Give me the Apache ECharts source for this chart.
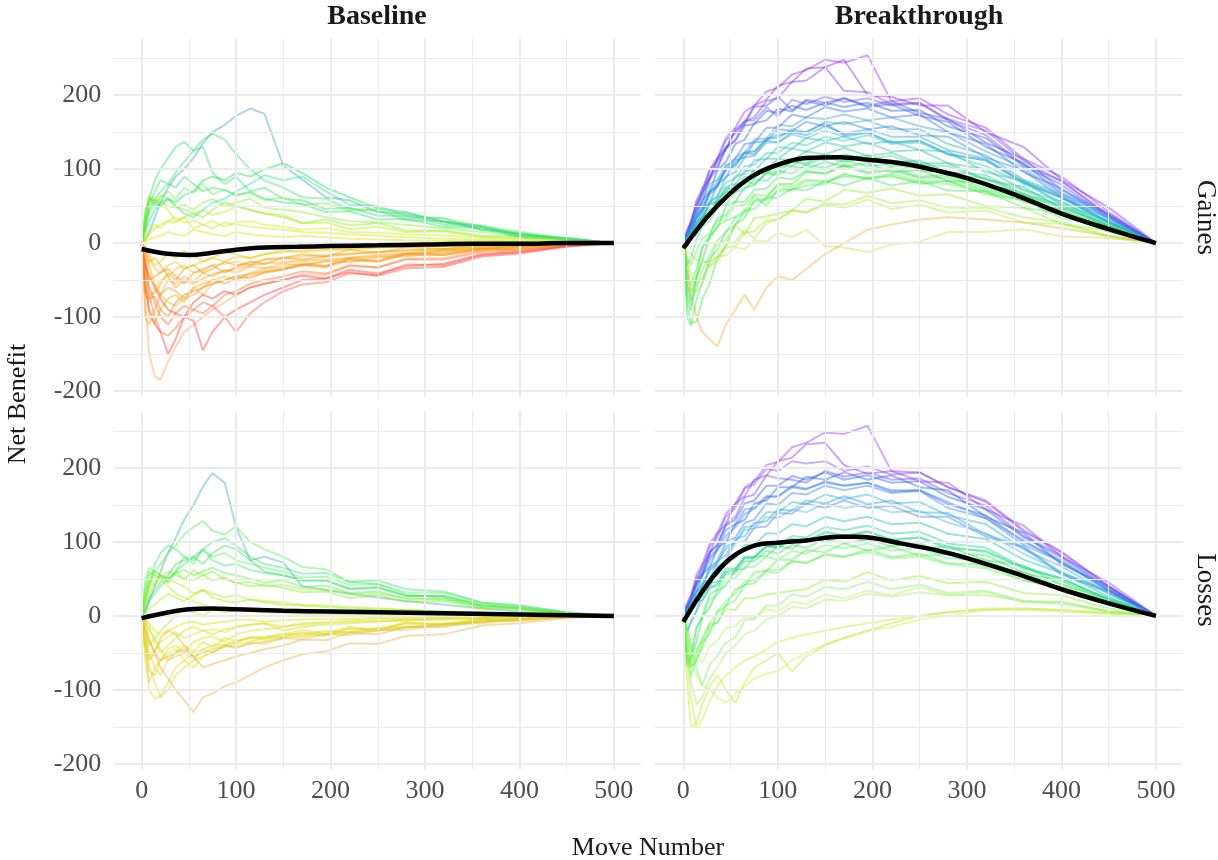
<!DOCTYPE html>
<html><head><meta charset="utf-8">
<script src="https://cdn.jsdelivr.net/npm/echarts@6/dist/echarts.min.js"></script>
<style>html,body{margin:0;padding:0;background:#fff}#chart{width:1218px;height:860px}</style>
</head><body><div id="chart"></div>
<script>
// ---------- DATA ----------
const moves = [0,4,8,14,20,28,36,45,55,65,75,88,100,115,130,150,170,195,220,250,280,320,360,400,450,500];

const baselineGaines = [
 [0,5,15,35,55,75,90,100,115,135,150,160,172,182,175,105,86,62,58,42,40,28,22,11,6,0],
 [0,30,60,85,100,115,130,137,125,130,95,80,90,70,75,60,58,46,48,37,37,25,22,10,7,0],
 [0,20,45,60,70,80,95,110,125,140,148,140,120,100,85,75,62,60,46,44,31,30,18,13,5,0],
 [0,40,62,55,50,60,55,65,70,85,90,85,95,90,100,108,95,75,62,47,42,29,24,12,7,0],
 [0,15,30,45,55,60,50,40,35,45,55,60,70,80,92,85,90,70,52,50,37,33,18,14,4,0],
 [0,20,40,55,65,60,50,45,40,35,45,55,50,45,40,35,27,32,24,27,17,17,10,9,3,0],
 [0,5,12,20,25,30,28,35,40,45,38,42,50,45,40,38,27,28,19,22,15,16,8,7,2,0],
 [0,10,65,60,55,45,30,35,20,25,30,22,28,30,25,22,18,20,15,14,12,10,8,5,2,0],
 [0,2,5,8,10,15,12,10,18,15,12,10,15,12,10,8,10,8,6,5,4,3,3,2,1,0],
 [0,35,60,58,55,50,48,52,45,55,60,50,55,60,48,45,42,35,30,28,25,20,15,10,5,0],
 [0,-5,-15,-30,-25,-15,-20,-10,-18,-25,-20,-12,-15,-20,-15,-10,-12,-10,-8,-6,-5,-4,-3,-2,-1,0],
 [0,-65,-70,-68,-55,-40,-50,-35,-30,-40,-35,-25,-30,-28,-22,-20,-15,-18,-9,-13,-6,-8,-3,-4,-1,0],
 [0,-30,-50,-45,-40,-35,-45,-55,-40,-35,-30,-40,-32,-25,-28,-20,-22,-18,-15,-12,-10,-8,-6,-4,-2,0],
 [0,-50,-100,-108,-90,-75,-70,-80,-60,-55,-50,-45,-50,-40,-35,-32,-27,-31,-20,-23,-13,-14,-6,-6,-1,0],
 [0,-80,-150,-180,-185,-160,-140,-120,-110,-100,-90,-80,-70,-60,-55,-50,-42,-43,-31,-33,-21,-20,-10,-9,-3,0],
 [0,-60,-90,-110,-120,-150,-130,-100,-105,-145,-120,-100,-90,-80,-70,-60,-50,-48,-36,-41,-31,-28,-15,-12,-4,0],
 [0,-40,-60,-80,-100,-110,-95,-85,-90,-80,-85,-100,-120,-95,-80,-65,-56,-53,-41,-43,-29,-30,-16,-12,-4,0],
 [0,-20,-70,-100,-120,-125,-115,-100,-90,-95,-85,-70,-65,-55,-50,-45,-38,-41,-30,-33,-22,-22,-12,-10,-3,0],
 [0,-10,-30,-55,-70,-80,-85,-75,-60,-70,-55,-50,-45,-48,-40,-35,-30,-25,-20,-18,-15,-10,-8,-5,-2,0],
 [0,-5,-20,-35,-40,-30,-25,-35,-30,-25,-20,-25,-18,-20,-15,-12,-10,-8,-8,-6,-5,-4,-3,-2,-1,0],
 [0,-70,-75,-72,-90,-100,-80,-70,-65,-60,-55,-50,-45,-42,-38,-35,-29,-31,-22,-25,-15,-16,-8,-8,-2,0],
 [0,-30,-45,-60,-75,-90,-95,-100,-80,-70,-75,-65,-70,-60,-55,-50,-44,-48,-39,-44,-34,-32,-18,-14,-5,0],
 [0,25,50,70,85,80,75,90,80,70,75,72,65,68,60,55,53,42,43,32,33,22,20,8,6,0],
 [0,8,15,25,20,30,35,28,30,25,20,28,25,22,20,18,15,14,12,10,8,6,5,3,2,0],
 [0,-15,-25,-20,-30,-45,-60,-50,-55,-48,-42,-38,-35,-30,-28,-26,-24,-22,-20,-16,-14,-10,-7,-4,-2,0],
 [0,-100,-110,-90,-70,-60,-65,-75,-70,-60,-50,-55,-48,-45,-40,-36,-30,-33,-23,-25,-15,-16,-8,-7,-2,0],
 [0,-10,-40,-60,-50,-45,-35,-30,-40,-38,-30,-28,-25,-30,-22,-20,-18,-16,-14,-12,-10,-8,-5,-3,-1,0],
 [0,45,60,50,62,70,60,75,68,80,66,72,64,70,58,62,52,54,44,46,34,34,22,16,6,0],
 [0,-40,-80,-60,-70,-50,-55,-45,-52,-40,-45,-36,-40,-32,-34,-28,-30,-24,-26,-19,-18,-12,-10,-5,-2,0]
];

const breakthroughGaines = [
 [0,18,28,58,72,100,115,142,156,178,186,205,210,228,234,248,244,254,192,196,174,156,114,90,42,0],
 [0,10,27,42,68,86,112,126,154,164,186,194,213,218,236,238,248,200,198,186,186,150,130,86,48,0],
 [0,12,20,44,56,88,100,128,140,164,170,192,196,218,220,238,206,204,188,190,166,146,106,84,38,0],
 [0,14,30,48,74,88,116,128,152,160,184,186,198,180,194,190,196,186,192,176,168,136,114,72,40,0],
 [0,8,22,34,58,70,98,110,134,140,162,166,182,178,192,186,196,184,188,172,164,130,108,68,38,0],
 [0,10,16,36,44,70,78,104,114,134,136,156,156,174,170,184,178,182,170,174,150,134,96,74,32,0],
 [0,4,18,24,46,54,80,88,112,116,136,138,154,152,164,158,164,154,158,146,144,116,98,62,34,0],
 [0,7,10,28,34,56,64,90,96,116,118,136,136,150,146,158,148,154,144,144,126,114,84,63,28,0],
 [0,10,14,34,40,66,76,100,106,122,120,140,146,150,150,162,146,150,136,138,120,112,82,61,28,0],
 [0,2,12,16,36,40,62,68,90,94,112,114,130,128,142,138,144,134,138,126,124,96,84,52,30,0],
 [0,-5,8,12,32,36,56,60,80,82,100,100,114,112,124,120,129,118,122,108,108,86,76,47,27,0],
 [0,-70,-92,-46,-24,10,20,50,56,76,78,96,96,110,106,116,110,116,104,108,92,88,64,50,22,0],
 [0,-82,-108,-106,-76,-54,-20,-4,26,34,58,60,80,80,96,94,106,96,102,90,92,74,66,40,24,0],
 [0,8,12,30,34,54,56,74,74,90,88,104,100,112,108,120,114,119,108,112,96,92,66,52,22,0],
 [0,-40,-58,-34,-6,6,24,30,36,44,64,50,74,72,78,80,94,86,92,80,84,66,58,34,22,0],
 [0,-60,-66,-48,-26,-24,0,4,24,12,34,36,40,44,60,56,72,68,74,64,66,50,48,26,17,0],
 [0,2,6,22,26,46,50,70,68,84,80,94,92,104,100,110,104,108,96,99,84,82,56,45,18,0],
 [0,-20,-44,-56,-48,-26,-18,-2,2,18,6,28,32,44,42,54,52,64,54,58,48,48,35,28,10,0],
 [0,-12,-13,-24,-22,-32,-18,-17,-6,-8,4,2,14,8,18,-4,-6,-12,-2,2,15,15,19,9,7,0],
 [0,-30,-70,-100,-120,-130,-140,-110,-90,-70,-90,-60,-45,-50,-35,-15,0,18,25,32,35,32,28,20,10,0],
 [0,12,20,44,54,80,86,106,108,124,124,139,136,147,142,152,144,149,136,139,121,112,81,62,27,0],
 [0,14,24,52,64,92,104,130,138,159,161,179,176,186,180,190,184,190,179,180,158,142,104,79,35,0],
 [0,-52,-78,-44,-6,11,34,38,56,56,72,74,89,86,98,94,104,94,99,88,89,71,64,38,23,0],
 [0,10,16,38,46,70,76,99,104,122,124,142,142,154,150,164,161,166,154,154,134,119,86,66,29,0],
 [0,-28,-62,-66,-54,-31,-24,-6,-4,14,16,32,31,44,41,52,48,59,46,52,41,44,28,26,8,0],
 [0,-100,-112,-76,-54,-21,-9,16,24,44,46,62,61,74,71,84,78,88,78,84,71,70,48,40,15,0],
 [0,16,28,56,68,99,111,139,148,166,166,184,171,194,188,198,191,196,186,189,168,152,111,84,37,0],
 [0,7,8,26,31,52,56,76,80,98,98,114,114,128,124,136,131,136,124,126,108,100,72,56,23,0],
 [0,-30,-20,6,22,30,48,52,70,72,86,84,98,94,106,102,112,104,108,98,96,80,68,44,24,0],
 [0,3,14,18,36,38,58,60,78,80,96,94,108,104,118,112,120,114,118,106,104,86,72,48,26,0],
 [0,-60,-84,-60,-36,-16,4,14,34,40,56,58,70,72,84,82,90,88,94,84,84,70,60,40,20,0],
 [0,9,18,36,50,68,84,98,116,122,140,142,160,158,170,168,174,166,170,158,150,124,102,66,36,0],
 [0,-20,-30,-10,6,14,30,34,50,52,66,64,78,76,86,84,92,88,90,82,80,68,58,38,20,0],
 [0,6,12,28,36,56,62,82,88,104,106,122,122,136,132,144,138,146,134,136,120,104,80,56,28,0]
];

const baselineLosses = [
 [0,5,20,40,60,85,105,130,150,175,193,180,120,75,80,72,40,35,30,25,20,15,10,6,3,0],
 [0,30,55,60,70,85,95,110,120,128,115,110,121,100,90,80,66,63,46,43,29,25,13,10,3,0],
 [0,20,40,70,85,95,90,80,75,90,100,105,95,80,70,65,57,58,46,48,36,33,18,14,5,0],
 [0,40,60,55,50,60,55,50,48,55,60,50,45,40,42,38,32,33,24,28,19,20,10,9,3,0],
 [0,15,30,45,55,50,45,40,30,35,30,25,28,22,20,18,15,14,12,10,8,6,5,3,2,0],
 [0,10,25,35,45,55,70,75,80,70,85,95,90,75,60,55,49,48,36,38,27,27,16,11,4,0],
 [0,-20,-50,-70,-60,-45,-40,-50,-35,-30,-28,-35,-25,-20,-18,-15,-12,-10,-8,-7,-6,-5,-4,-2,-1,0],
 [0,-60,-100,-112,-108,-90,-70,-60,-50,-45,-40,-38,-35,-30,-28,-25,-19,-23,-15,-18,-9,-12,-5,-5,-1,0],
 [0,-10,-30,-50,-70,-85,-100,-114,-130,-110,-105,-95,-90,-80,-70,-60,-52,-48,-37,-38,-27,-25,-13,-10,-3,0],
 [0,-40,-60,-50,-30,-20,-25,-40,-55,-50,-45,-40,-42,-38,-35,-30,-28,-25,-22,-20,-15,-12,-8,-4,-2,0],
 [0,20,40,55,50,40,30,25,20,15,10,5,8,6,5,4,3,3,2,2,1,1,1,0,0,0],
 [0,-5,-10,-20,-25,-20,-15,-10,-8,-12,-10,-8,-6,-5,-8,-6,-5,-4,-4,-3,-3,-2,-2,-1,0,0],
 [0,-30,-70,-90,-110,-100,-80,-70,-60,-55,-50,-40,-35,-30,-32,-28,-22,-25,-17,-20,-11,-12,-5,-5,-1,0],
 [0,25,45,60,55,50,58,62,55,60,65,58,55,50,45,48,39,41,31,33,23,23,12,10,3,0],
 [0,5,10,15,22,30,25,20,28,35,25,20,18,22,18,15,14,12,10,9,8,6,4,2,1,0],
 [0,-20,-35,-50,-60,-55,-50,-45,-55,-70,-65,-60,-55,-50,-45,-40,-32,-33,-23,-25,-15,-15,-7,-7,-1,0],
 [0,-5,-15,-35,-50,-40,-30,-20,-15,-20,-25,-18,-15,-12,-10,-20,-15,-12,-10,-8,-6,-4,-3,-2,-1,0],
 [0,10,20,30,40,50,60,70,80,90,75,68,70,62,58,55,47,48,37,39,27,27,14,12,4,0],
 [0,-10,-20,-30,-20,-10,0,10,5,0,8,12,10,8,6,10,8,6,5,4,3,3,2,1,0,0],
 [0,-30,-55,-45,-35,-28,-22,-30,-25,-20,-18,-22,-15,-12,-10,-14,-10,-8,-6,-5,-4,-3,-2,-1,0,0],
 [0,50,65,60,55,45,60,80,70,90,80,85,75,70,65,60,52,53,42,43,32,31,18,14,5,0],
 [0,-40,-75,-80,-60,-50,-45,-60,-70,-55,-48,-42,-38,-35,-30,-28,-23,-27,-17,-19,-9,-11,-4,-5,0,0],
 [0,-20,-40,-30,-45,-60,-50,-40,-48,-35,-42,-30,-34,-28,-30,-24,-26,-20,-22,-16,-16,-10,-9,-4,-2,0],
 [0,30,50,40,55,45,60,50,62,55,48,52,44,46,40,42,36,36,30,30,24,22,14,10,4,0],
 [0,-50,-90,-70,-80,-60,-55,-50,-58,-45,-50,-40,-44,-36,-38,-30,-32,-25,-26,-19,-19,-12,-10,-5,-2,0]
];

const breakthroughLosses = [
 [0,18,28,56,70,98,112,138,152,174,182,204,208,228,234,248,246,257,196,194,174,154,114,86,40,0],
 [0,10,27,42,68,84,112,124,152,162,184,190,209,214,232,234,204,192,196,182,180,144,122,80,45,0],
 [0,12,20,46,56,86,96,124,134,160,164,190,186,184,180,196,188,194,184,186,166,149,108,82,38,0],
 [0,8,22,32,56,66,92,100,124,130,152,156,174,174,188,184,194,184,190,174,170,134,112,70,40,0],
 [0,10,14,34,40,66,74,100,106,126,130,152,150,166,164,176,170,176,166,169,146,132,96,73,33,0],
 [0,4,16,22,44,50,74,82,104,108,126,128,144,142,156,152,162,151,156,140,139,110,94,58,34,0],
 [0,-22,-8,6,32,40,66,76,99,101,119,121,139,138,152,146,156,146,149,134,134,107,92,56,32,0],
 [0,7,10,26,30,50,54,74,78,96,96,112,111,124,121,134,128,134,124,126,111,104,76,58,26,0],
 [0,-68,-58,-34,-1,11,34,41,62,64,80,81,94,91,104,100,110,100,104,91,94,75,68,42,24,0],
 [0,-42,-68,-62,-36,-24,4,14,36,41,59,61,76,76,89,86,98,88,94,81,84,66,60,37,22,0],
 [0,6,8,24,26,44,46,64,64,80,80,94,92,104,101,114,108,114,102,106,91,88,64,51,22,0],
 [0,-90,-150,-145,-120,-95,-80,-100,-118,-90,-70,-60,-50,-75,-55,-40,-30,-20,-10,0,5,10,10,8,4,0],
 [0,-60,-110,-152,-140,-115,-95,-80,-70,-60,-55,-45,-35,-30,-25,-20,-15,-10,-5,0,5,8,8,6,3,0],
 [0,-28,-62,-46,-34,-11,-9,9,8,24,24,29,31,34,36,49,46,59,48,54,44,46,31,28,10,0],
 [0,-18,-37,-46,-64,-41,-34,-16,-14,-1,-4,9,6,19,16,29,24,34,28,39,28,32,18,18,6,0],
 [0,-48,-82,-56,-44,-16,-9,14,21,42,44,60,58,74,71,84,80,90,80,84,71,69,48,39,16,0],
 [0,-8,-42,-71,-94,-66,-54,-36,-29,-6,-4,14,14,29,26,39,36,46,36,42,31,34,20,19,6,0],
 [0,14,22,48,58,86,96,122,130,152,156,176,176,189,184,194,184,190,180,182,161,144,106,79,36,0],
 [0,9,13,32,38,62,70,94,100,120,122,140,140,154,151,164,158,164,152,154,136,124,90,67,30,0],
 [0,-63,-57,-16,1,29,36,56,58,74,74,88,84,96,92,104,98,104,94,98,84,82,58,47,20,0],
 [0,-30,-60,-80,-95,-100,-110,-118,-105,-95,-85,-78,-75,-60,-50,-38,-30,-20,-15,-5,0,8,10,8,4,0],
 [0,5,6,20,21,39,41,59,61,78,78,94,94,108,106,120,116,122,111,114,98,92,66,51,22,0],
 [0,15,25,52,64,94,106,134,146,172,178,199,196,209,206,209,196,202,191,194,174,156,116,87,40,0],
 [0,13,20,44,54,80,90,116,124,144,146,162,161,174,171,182,176,180,168,170,151,136,100,75,34,0],
 [0,-28,-47,-16,-4,22,28,49,51,66,66,80,76,88,84,96,91,98,88,92,78,76,54,43,18,0],
 [0,-20,-10,8,20,36,44,60,64,78,80,94,92,104,100,112,108,114,104,106,94,86,66,48,24,0],
 [0,8,16,32,44,62,74,90,100,116,118,134,132,144,140,152,146,150,140,142,126,112,84,60,30,0],
 [0,-50,-70,-50,-30,-10,6,20,30,46,48,62,62,74,72,82,80,86,78,80,70,64,48,36,16,0],
 [0,-40,-90,-120,-110,-85,-70,-50,-40,-25,-20,-5,0,12,10,22,20,30,26,32,28,28,20,16,6,0],
 [0,10,22,40,54,76,88,108,120,138,144,160,162,176,172,180,176,180,170,170,154,132,102,72,36,0]
];

// smooth (trend) lines
const trendBaselineGainesX = [0,25,50,75,100,130,165,200,250,300,350,400,450,500];
const trendBaselineGainesY = [-8,-14,-16,-13,-9,-6,-5,-4,-3,-2,-1,-1,0,0];
const trendBreakthroughGainesX = [0,25,50,75,100,130,165,200,230,265,300,350,400,450,500];
const trendBreakthroughGainesY = [-7,35,68,92,106,115,116,112,108,99,88,66,40,19,0];
const trendBaselineLossesX = [0,25,50,75,100,150,200,300,400,500];
const trendBaselineLossesY = [-3,4,9,10,9,7,6,4,2,0];
const trendBreakthroughLossesX = [0,25,50,75,100,130,165,185,230,270,300,350,400,450,500];
const trendBreakthroughLossesY = [-8,42,78,95,99,102,107,107,98,88,78,58,36,17,0];

// ticks / labels
const yTicks = [-200,-100,0,100,200];
const yMinorTicks = [-150,-50,50,150,250];
const xTicks = [0,100,200,300,400,500];
const xMinorTicks = [50,150,250,350,450];
const colLabels = ['Baseline','Breakthrough'];
const rowLabels = ['Gaines','Losses'];
const xTitle = 'Move Number';
const yTitle = 'Net Benefit';

// ---------- STYLES ----------
const colorsBaselineGaines = ['#38a0b0','#22dd66','#33e066','#11dd44','#22ddaa','#77ee22','#aaee00','#ccee00','#dddd00','#88ee11','#eecc00','#ee9900','#ee8800','#eeaa00','#ff9955','#ff3333','#ff5533','#ff6622','#ffaa22','#eebb00','#ee8800','#ff3333','#22dd77','#bbee00','#ff9900','#ee9922','#eebb22','#66ee44','#f0a030'];
const colorsBreakthroughGaines = ['#9922ff','#8822ee','#7733ee','#5544ee','#2255ee','#3366ee','#2277ee','#2299dd','#3377dd','#11bbbb','#11cc88','#22dd44','#33ee22','#11ccaa','#44ee44','#88ee22','#22dd55','#99ee33','#ccdd44','#eeaa33','#22bbcc','#2255ee','#33dd66','#22aabb','#aaee33','#44dd66','#6655ee','#33bb99','#33dd88','#44cc99','#55ee66','#3399dd','#66ee44','#22ccbb'];
const colorsBaselineLosses = ['#40a8b0','#44ee44','#33dd77','#77ee22','#aaee00','#33dd55','#dddd00','#dddd11','#eeaa44','#ddbb00','#bbee00','#dddd00','#eecc33','#55ee33','#99ee00','#eeaa22','#ccdd11','#33dd88','#aaee22','#dddd22','#55ee55','#dde000','#cce000','#88ee33','#e8c050'];
const colorsBreakthroughLosses = ['#9933ff','#8833ee','#6644ee','#2255ee','#3377ee','#2299dd','#4477dd','#11bbaa','#22dd44','#44ee33','#11cc88','#ccdd22','#bbee22','#88ee22','#bbee55','#44ee55','#77ee66','#2255ee','#22aacc','#33dd66','#ccee44','#11cc99','#7744ee','#3366ee','#55ee77','#33dd88','#44bbdd','#66ee55','#99ee66','#3388ee'];

const FONT = "'Liberation Serif', 'DejaVu Serif', serif";
const panels = [
  {lines: baselineGaines, colors: colorsBaselineGaines, tx: trendBaselineGainesX, ty: trendBaselineGainesY},
  {lines: breakthroughGaines, colors: colorsBreakthroughGaines, tx: trendBreakthroughGainesX, ty: trendBreakthroughGainesY},
  {lines: baselineLosses, colors: colorsBaselineLosses, tx: trendBaselineLossesX, ty: trendBaselineLossesY},
  {lines: breakthroughLosses, colors: colorsBreakthroughLosses, tx: trendBreakthroughLossesX, ty: trendBreakthroughLossesY}
];
const gridBoxes = [
  {left: 113.3, top: 38.3, width: 527.3, height: 358.4},
  {left: 655, top: 38.3, width: 527.7, height: 358.4},
  {left: 113.3, top: 411, width: 527.3, height: 358.5},
  {left: 655, top: 411, width: 527.7, height: 358.5}
];

const grid = gridBoxes.map(b => Object.assign({containLabel: false}, b));
const xAxis = gridBoxes.map((b, i) => ({
  type: 'value', gridIndex: i, min: -30, max: 528.3,
  axisLine: {show: false}, axisTick: {show: false}, splitLine: {show: false},
  axisLabel: {show: i >= 2, customValues: xTicks, color: '#4d4d4d', fontSize: 26, fontFamily: FONT, margin: 9}
}));
const yAxis = gridBoxes.map((b, i) => ({
  type: 'value', gridIndex: i, min: -207.7, max: 277,
  axisLine: {show: false}, axisTick: {show: false}, splitLine: {show: false},
  axisLabel: {show: i % 2 === 0, customValues: yTicks, color: '#4d4d4d', fontSize: 26, fontFamily: FONT, margin: 12}
}));

const series = [];
const major = {color: '#ebebeb', width: 2, type: 'solid'};
const minor = {color: '#ebebeb', width: 1, type: 'solid'};
gridBoxes.forEach((b, i) => {
  const ml = [];
  yMinorTicks.forEach(v => ml.push({yAxis: v, lineStyle: minor}));
  xMinorTicks.forEach(v => ml.push({xAxis: v, lineStyle: minor}));
  yTicks.forEach(v => ml.push({yAxis: v, lineStyle: major}));
  xTicks.forEach(v => ml.push({xAxis: v, lineStyle: major}));
  series.push({
    type: 'line', xAxisIndex: i, yAxisIndex: i, data: [[0, 0]], showSymbol: false,
    lineStyle: {opacity: 0}, silent: true, z: 0,
    markLine: {silent: true, symbol: ['none', 'none'], label: {show: false}, animation: false, data: ml}
  });
});
panels.forEach((p, i) => {
  p.lines.forEach((vals, k) => {
    series.push({
      type: 'line', xAxisIndex: i, yAxisIndex: i, silent: true, showSymbol: false, z: 2,
      data: vals.map((v, j) => [moves[j], v]),
      lineStyle: {color: p.colors[k % p.colors.length], width: 2, opacity: 0.42}
    });
  });
});
panels.forEach((p, i) => {
  series.push({
    type: 'line', xAxisIndex: i, yAxisIndex: i, silent: true, showSymbol: false, z: 5, smooth: 0.4,
    data: p.tx.map((x, j) => [x, p.ty[j]]),
    lineStyle: {color: '#000', width: 4.5}
  });
});

const graphic = [
  {type: 'text', x: 377, y: 17, style: {text: colLabels[0], font: `bold 28px ${FONT}`, fill: '#1a1a1a', align: 'center', verticalAlign: 'middle'}},
  {type: 'text', x: 919, y: 17, style: {text: colLabels[1], font: `bold 28px ${FONT}`, fill: '#1a1a1a', align: 'center', verticalAlign: 'middle'}},
  {type: 'text', x: 1205, y: 217.5, rotation: -Math.PI / 2, style: {text: rowLabels[0], font: `27px ${FONT}`, fill: '#1a1a1a', align: 'center', verticalAlign: 'middle'}},
  {type: 'text', x: 1205, y: 590, rotation: -Math.PI / 2, style: {text: rowLabels[1], font: `27px ${FONT}`, fill: '#1a1a1a', align: 'center', verticalAlign: 'middle'}},
  {type: 'text', x: 18, y: 404, rotation: Math.PI / 2, style: {text: yTitle, font: `26px ${FONT}`, fill: '#1a1a1a', align: 'center', verticalAlign: 'middle'}},
  {type: 'text', x: 648, y: 848, style: {text: xTitle, font: `26px ${FONT}`, fill: '#1a1a1a', align: 'center', verticalAlign: 'middle'}}
];

const chart = echarts.init(document.getElementById('chart'), null, {renderer: 'canvas'});
chart.setOption({animation: false, backgroundColor: '#fff', grid, xAxis, yAxis, series, graphic});
</script></body></html>
